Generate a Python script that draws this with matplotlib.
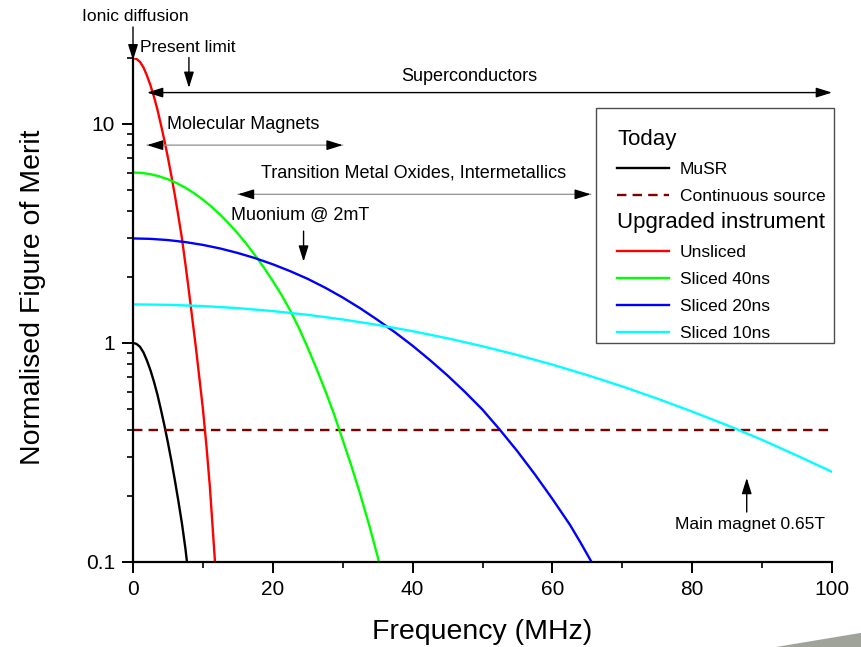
import matplotlib
matplotlib.use("Agg")
import matplotlib.pyplot as plt
from matplotlib import ticker
from matplotlib.patches import Rectangle, Polygon

plt.rcParams['font.family'] = ['Liberation Sans', 'DejaVu Sans']

# values (frequency in MHz, figure of merit)
freq_musr = [0, 0.5, 1, 1.5, 2, 2.5, 3, 3.5, 4, 4.5, 5, 5.5, 6, 6.5, 7, 7.5, 7.72]
musr = [1.0, 0.99, 0.96, 0.905, 0.83, 0.75, 0.665, 0.58, 0.495, 0.419, 0.35, 0.289,
        0.235, 0.189, 0.15, 0.115, 0.1]

freq_continuous = [0, 100]
continuous = [0.4, 0.4]

freq_unsliced = [0, 0.5, 1, 1.5, 2, 2.5, 3, 3.5, 4, 4.5, 5, 5.5, 6, 6.5, 7, 7.5, 8,
                 8.5, 9, 9.5, 10, 10.5, 11, 11.73]
unsliced = [20, 19.8, 19.2, 18.1, 16.6, 15.0, 13.3, 11.6, 9.9, 8.38, 7.0, 5.77, 4.7,
            3.78, 3.0, 2.29, 1.72, 1.28, 0.95, 0.69, 0.5, 0.34, 0.22, 0.1]

freq_40ns = [0, 1.25, 2.5, 3.75, 5, 6.25, 7.5, 8.75, 10, 11.25, 12.5, 13.75, 15, 16.25,
             17.5, 18.75, 20, 21.25, 22.5, 23.75, 25, 26.25, 27.5, 28.75, 30, 31.25,
             32.5, 33.85, 35.2]
sliced_40ns = [6.0, 5.973, 5.894, 5.764, 5.587, 5.368, 5.111, 4.823, 4.512, 4.182, 3.844,
               3.500, 3.159, 2.825, 2.504, 2.203, 1.918, 1.656, 1.404, 1.168, 0.950, 0.763,
               0.606, 0.474, 0.361, 0.274, 0.204, 0.145, 0.1]

freq_20ns = [0, 2.5, 5, 7.5, 10, 12.5, 15, 17.5, 20, 22.5, 25, 27.5, 30, 32.5, 35, 37.5,
             40, 42.5, 45, 47.5, 50, 52.5, 55, 57.5, 60, 62.5, 64, 65.6]
sliced_20ns = [3.0, 2.987, 2.949, 2.887, 2.803, 2.698, 2.574, 2.437, 2.286, 2.126, 1.961,
               1.787, 1.612, 1.440, 1.273, 1.117, 0.971, 0.834, 0.710, 0.597, 0.496, 0.401,
               0.320, 0.251, 0.194, 0.148, 0.123, 0.1]

freq_10ns = [0, 5, 10, 15, 20, 25, 30, 35, 40, 45, 50, 55, 60, 65, 70, 75, 80, 85, 90, 95, 100]
sliced_10ns = [1.5, 1.493, 1.474, 1.442, 1.398, 1.344, 1.280, 1.209, 1.132, 1.050, 0.966, 0.881,
               0.796, 0.713, 0.633, 0.557, 0.486, 0.421, 0.361, 0.306, 0.258]

y_ticks = [0.1, 1, 10]

fig = plt.figure(figsize=(8.62, 6.47), dpi=100)
ax = fig.add_axes([0.1543, 0.1314, 0.8109, 0.779])

lw = 1.7
l_musr, = ax.plot(freq_musr, musr, color='black', lw=lw, label='MuSR')
l_cont, = ax.plot(freq_continuous, continuous, color='#800000', lw=lw, ls=(0, (4, 2.6)),
                  label='Continuous source')
l_uns, = ax.plot(freq_unsliced, unsliced, color='#ff0000', lw=lw, label='Unsliced')
l_40, = ax.plot(freq_40ns, sliced_40ns, color='#00ff00', lw=lw, label='Sliced 40ns')
l_20, = ax.plot(freq_20ns, sliced_20ns, color='#0000ff', lw=lw, label='Sliced 20ns')
l_10, = ax.plot(freq_10ns, sliced_10ns, color='#00ffff', lw=lw, label='Sliced 10ns')

ax.set_yscale('log')
ax.set_xlim(0, 100)
ax.set_ylim(0.1, 20)
ax.yaxis.set_major_locator(ticker.FixedLocator(y_ticks))
ax.yaxis.set_major_formatter(ticker.FuncFormatter(lambda v, p: f'{v:g}'))
ax.yaxis.set_minor_locator(ticker.LogLocator(base=10, subs=range(2, 10)))
ax.yaxis.set_minor_formatter(ticker.NullFormatter())
ax.xaxis.set_major_locator(ticker.MultipleLocator(20))
ax.xaxis.set_minor_locator(ticker.MultipleLocator(10))

for s in ['top', 'right']:
    ax.spines[s].set_visible(False)
for s in ['left', 'bottom']:
    ax.spines[s].set_linewidth(1.6)
ax.tick_params(which='major', direction='out', length=8, width=1.4, labelsize=15, pad=5)
ax.tick_params(which='minor', direction='out', length=4, width=1.2)

ax.set_xlabel('Frequency (MHz)', fontsize=20.5, va='center')
ax.xaxis.set_label_coords(0.5, -0.139)
ax.set_ylabel('Normalised Figure of Merit', fontsize=20.5, va='center')
ax.yaxis.set_label_coords(-0.143, 0.525)

# annotations
head = 'head_length=0.8,head_width=0.25'
arrow = dict(arrowstyle='-|>,' + head, color='black', lw=1,
             mutation_scale=12, shrinkA=0, shrinkB=0)
both = dict(arrowstyle='<|-|>,' + head, color='black', lw=1,
            mutation_scale=12, shrinkA=0, shrinkB=0)
grey_line = dict(arrowstyle='-', color='0.6', lw=1, shrinkA=0, shrinkB=0)


def range_arrow(x0, x1, y):
    # light grey shaft with black heads at both ends
    ax.annotate('', xy=(x0, y), xytext=(x1, y), arrowprops=grey_line)
    ax.annotate('', xy=(x0, y), xytext=(x0 + 2, y), arrowprops=arrow)
    ax.annotate('', xy=(x1, y), xytext=(x1 - 2, y), arrowprops=arrow)


ax.text(0.3, 31, 'Ionic diffusion', fontsize=12.5, ha='center', va='center')
ax.annotate('', xy=(0, 19.5), xytext=(0, 27.7), arrowprops=arrow, annotation_clip=False)

ax.text(1.0, 22.3, 'Present limit', fontsize=12.5, ha='left', va='center')
ax.annotate('', xy=(8, 14.6), xytext=(8, 20.1), arrowprops=arrow, annotation_clip=False)

ax.text(48.1, 16.4, 'Superconductors', fontsize=13, ha='center', va='center')
ax.annotate('', xy=(2.0, 13.9), xytext=(100, 13.9), arrowprops=both, annotation_clip=False)

ax.text(15.7, 9.9, 'Molecular Magnets', fontsize=13, ha='center', va='center')
range_arrow(2.0, 30, 8.0)

ax.text(40.1, 5.96, 'Transition Metal Oxides, Intermetallics', fontsize=13, ha='center', va='center')
range_arrow(15, 65.5, 4.77)

ax.text(23.9, 3.81, 'Muonium @ 2mT', fontsize=13, ha='center', va='center')
ax.annotate('', xy=(24.4, 2.35), xytext=(24.4, 3.24), arrowprops=arrow)

ax.text(88.3, 0.149, 'Main magnet 0.65T', fontsize=12.5, ha='center', va='center')
ax.annotate('', xy=(87.8, 0.242), xytext=(87.8, 0.169), arrowprops=arrow)

# legend: two groups inside one frame
leg_kw = dict(loc='upper left', bbox_transform=fig.transFigure, frameon=False, fontsize=12.5,
              title_fontsize=16, alignment='left', handlelength=3.0, handletextpad=0.6,
              labelspacing=0.68, borderpad=0, borderaxespad=0)
leg1 = ax.legend(handles=[l_musr, l_cont], title='Today', bbox_to_anchor=(0.7158, 0.8006), **leg_kw)
ax.add_artist(leg1)
leg2 = ax.legend(handles=[l_uns, l_40, l_20, l_10], title='Upgraded instrument',
                 bbox_to_anchor=(0.7158, 0.6723), **leg_kw)
fig.add_artist(Rectangle((0.6914, 0.4699), 0.2761, 0.3632, transform=fig.transFigure,
                         fill=False, edgecolor='0.3', lw=1))

# grey corner decoration
fig.add_artist(Polygon([[0.9002, 0], [1.0, 0.0221], [1.0, 0]], closed=True,
                       transform=fig.transFigure, color='#a0a39a', lw=0))

fig.savefig('out.png', dpi=100)
